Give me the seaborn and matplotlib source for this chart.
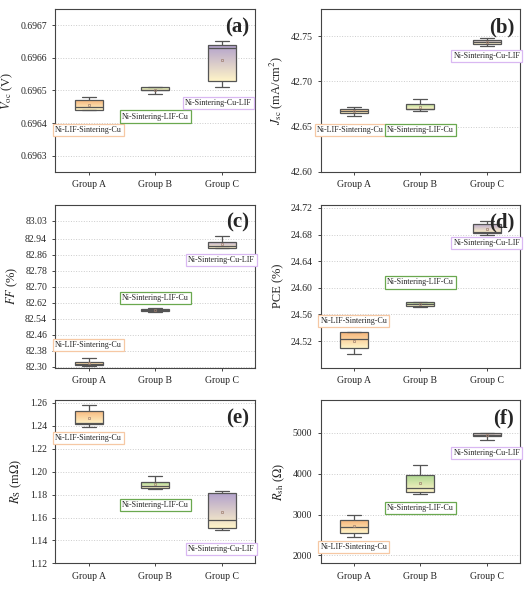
import numpy as np
import pandas as pd
import matplotlib.pyplot as plt
import seaborn as sns

groups = ["Group A", "Group B", "Group C"]
names = ["Ni-LIF-Sintering-Cu", "Ni-Sintering-LIF-Cu", "Ni-Sintering-Cu-LIF"]

# five-number summaries per group: min, q1, median, q3, max
voc = [[0.69644, 0.69644, 0.69645, 0.69647, 0.69648],
       [0.69649, 0.69650, 0.69650, 0.69651, 0.69651],
       [0.69651, 0.69653, 0.69663, 0.69664, 0.69665]]
jsc = [[42.662, 42.665, 42.667, 42.670, 42.672],
       [42.667, 42.669, 42.670, 42.675, 42.680],
       [42.739, 42.741, 42.743, 42.746, 42.748]]
ff = [[82.305, 82.308, 82.315, 82.325, 82.345],
      [82.575, 82.578, 82.583, 82.590, 82.592],
      [82.895, 82.895, 82.905, 82.925, 82.955]]
pce = [[24.500, 24.509, 24.523, 24.533, 24.534],
       [24.571, 24.573, 24.576, 24.578, 24.579],
       [24.679, 24.682, 24.684, 24.696, 24.701]]
rs = [[1.239, 1.241, 1.242, 1.253, 1.258],
      [1.185, 1.186, 1.187, 1.191, 1.196],
      [1.149, 1.151, 1.158, 1.181, 1.183]]
rsh = [[2450, 2550, 2700, 2860, 2990],
       [3510, 3540, 3660, 3970, 4210],
       [4820, 4920, 4960, 4990, 5010]]

panels = [
    ("(a)", voc, r"$V_{\rm oc}$ (V)", (0.69625, 0.69675), [0.6963, 0.6964, 0.6965, 0.6966, 0.6967], "%.4f",
     [(0.0, 0.69638), (1.0, 0.69642), (1.95, 0.69646)]),
    ("(b)", jsc, r"$J_{\rm sc}$ (mA/cm$^2$)", (42.60, 42.78), [42.60, 42.65, 42.70, 42.75], "%.2f",
     [(-0.05, 42.646), (1.0, 42.646), (2.0, 42.728)]),
    ("(c)", ff, r"$FF$ (%)", (82.295, 83.11), [82.30, 82.38, 82.46, 82.54, 82.62, 82.70, 82.78, 82.86, 82.94, 83.03], "%.2f",
     [(0.0, 82.41), (1.0, 82.645), (2.0, 82.835)]),
    ("(d)", pce, "PCE (%)", (24.48, 24.725), [24.52, 24.56, 24.60, 24.64, 24.68, 24.72], "%.2f",
     [(0.0, 24.55), (1.0, 24.608), (2.0, 24.668)]),
    ("(e)", rs, r"$R_{\rm S}$ (m$\Omega$)", (1.12, 1.262), [1.12, 1.14, 1.16, 1.18, 1.20, 1.22, 1.24, 1.26], "%.2f",
     [(0.0, 1.229), (1.0, 1.171), (2.0, 1.133)]),
    ("(f)", rsh, r"$R_{\rm sh}$ ($\Omega$)", (1800, 5800), [2000, 3000, 4000, 5000], "%d",
     [(0.0, 2200), (1.0, 3170), (2.0, 4510)]),
]

top_colors = ["#f7b57a", "#a9d68e", "#b3a2cc"]
bottom_color = "#fff4c8"
label_edges = ["#f6c8a4", "#6aa84f", "#d9b8f2"]

sns.set_style("ticks")
plt.rcParams['font.family'] = ['Liberation Serif', 'DejaVu Serif']
plt.rcParams['mathtext.fontset'] = 'stix'

fig, axes = plt.subplots(3, 2, figsize=(5.28, 5.9), dpi=100)
plt.subplots_adjust(left=0.105, right=0.985, top=0.985, bottom=0.045, wspace=0.33, hspace=0.2)

for ax, (tag, vals, ylab, ylim, ticks, fmt, lpos) in zip(axes.flat, panels):
    df = pd.DataFrame({"group": np.repeat(groups, 5), "value": np.concatenate(vals)})
    sns.boxplot(data=df, x="group", y="value", ax=ax, width=0.42, whis=np.inf,
                showmeans=True, color="white", linewidth=0.9, linecolor="#555555",
                meanprops=dict(marker="s", markersize=2, markerfacecolor="none",
                               markeredgecolor="#a08070", markeredgewidth=0.5))
    ax.set_xlim(-0.5, 2.5)
    ax.set_ylim(*ylim)
    for i, p in enumerate(list(ax.patches)):
        ext = p.get_path().get_extents(p.get_transform() - ax.transData)
        c0 = np.array(plt.matplotlib.colors.to_rgb(top_colors[i]))
        c1 = np.array(plt.matplotlib.colors.to_rgb(bottom_color))
        t = np.linspace(0, 1, 64)[:, None]
        grad = (c0 * (1 - t) + c1 * t)[:, None, :]
        im = ax.imshow(grad, extent=[ext.x0, ext.x1, ext.y0, ext.y1], origin="upper",
                       aspect="auto", zorder=p.get_zorder() - 0.1)
        im.set_clip_path(p)
        p.set_facecolor("none")
    ax.set_xlim(-0.5, 2.5)
    ax.set_ylim(*ylim)
    ax.set_yticks(ticks)
    ax.yaxis.set_major_formatter(plt.FormatStrFormatter(fmt))
    ax.grid(axis="y", color="#cccccc", linestyle=":", linewidth=0.7)
    ax.set_axisbelow(True)
    ax.set_xlabel("")
    ax.set_ylabel(ylab, fontsize=9)
    ax.tick_params(labelsize=7, width=0.6, length=2.5)
    for s in ax.spines.values():
        s.set_linewidth(0.8)
        s.set_color("#444444")
    ax.text(0.97, 0.95, tag, transform=ax.transAxes, ha="right", va="top",
            fontsize=15, fontweight="bold")
    for i, (x, y) in enumerate(lpos):
        ax.text(x, y, names[i], ha="center", va="center", fontsize=5.8,
                bbox=dict(boxstyle="square,pad=0.25", facecolor="white",
                          edgecolor=label_edges[i], linewidth=0.9))

plt.savefig("out.png", dpi=100)
